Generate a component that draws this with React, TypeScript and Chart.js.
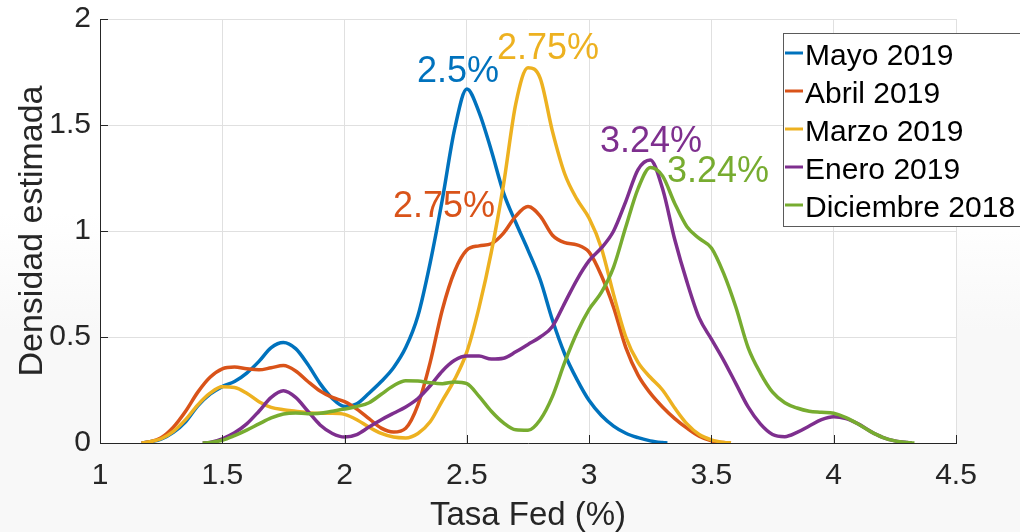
import React, { useEffect, useRef } from 'react';
import { Chart, registerables } from 'chart.js';

Chart.register(...registerables);

const FONT = '"Liberation Sans", Arial, Helvetica, sans-serif';

const seriesNames = ['Mayo 2019', 'Abril 2019', 'Marzo 2019', 'Enero 2019', 'Diciembre 2018'];
const seriesColors = ['#0072BD', '#D95319', '#EDB120', '#7E2F8E', '#77AC30'];

// [tasa, densidad] pairs
const mayo2019 = [
  [1.17, 0], [1.2, 0.005], [1.25, 0.018], [1.3, 0.05], [1.35, 0.1], [1.4, 0.175], [1.45, 0.23],
  [1.5, 0.266], [1.55, 0.29], [1.6, 0.33], [1.65, 0.385], [1.7, 0.45], [1.75, 0.474], [1.8, 0.445],
  [1.85, 0.37], [1.9, 0.28], [1.95, 0.21], [2.0, 0.172], [2.05, 0.185], [2.1, 0.235], [2.15, 0.29],
  [2.2, 0.355], [2.25, 0.45], [2.3, 0.6], [2.35, 0.85], [2.4, 1.15], [2.45, 1.48], [2.5, 1.67],
  [2.55, 1.56], [2.6, 1.38], [2.65, 1.18], [2.7, 1.04], [2.75, 0.91], [2.8, 0.77], [2.85, 0.58],
  [2.9, 0.42], [2.95, 0.3], [3.0, 0.2], [3.05, 0.13], [3.1, 0.08], [3.15, 0.046], [3.2, 0.025],
  [3.25, 0.01], [3.3, 0.002], [3.32, 0],
];
const abril2019 = [
  [1.17, 0], [1.2, 0.005], [1.25, 0.025], [1.3, 0.075], [1.35, 0.15], [1.4, 0.24], [1.45, 0.31],
  [1.5, 0.35], [1.55, 0.358], [1.6, 0.35], [1.65, 0.345], [1.7, 0.355], [1.75, 0.365], [1.8, 0.34],
  [1.85, 0.29], [1.9, 0.245], [1.95, 0.215], [2.0, 0.195], [2.05, 0.16], [2.1, 0.115], [2.15, 0.07],
  [2.2, 0.052], [2.25, 0.07], [2.3, 0.18], [2.35, 0.38], [2.4, 0.63], [2.45, 0.81], [2.5, 0.91],
  [2.55, 0.93], [2.6, 0.94], [2.65, 0.99], [2.7, 1.07], [2.75, 1.115], [2.8, 1.07], [2.85, 0.98],
  [2.9, 0.945], [2.95, 0.935], [3.0, 0.9], [3.05, 0.79], [3.1, 0.64], [3.15, 0.45], [3.2, 0.32],
  [3.25, 0.235], [3.3, 0.17], [3.35, 0.115], [3.4, 0.07], [3.45, 0.032], [3.5, 0.01], [3.55, 0.002],
  [3.58, 0],
];
const marzo2019 = [
  [1.17, 0], [1.2, 0.005], [1.25, 0.02], [1.3, 0.055], [1.35, 0.11], [1.4, 0.18], [1.45, 0.235],
  [1.5, 0.265], [1.55, 0.262], [1.6, 0.235], [1.65, 0.195], [1.7, 0.168], [1.75, 0.157], [1.8, 0.15],
  [1.85, 0.143], [1.9, 0.14], [1.95, 0.14], [2.0, 0.135], [2.05, 0.11], [2.1, 0.075], [2.15, 0.045],
  [2.2, 0.028], [2.25, 0.024], [2.3, 0.045], [2.35, 0.1], [2.4, 0.2], [2.45, 0.3], [2.5, 0.43],
  [2.55, 0.64], [2.6, 0.9], [2.65, 1.22], [2.7, 1.6], [2.75, 1.77], [2.8, 1.72], [2.85, 1.47],
  [2.9, 1.27], [2.95, 1.15], [3.0, 1.06], [3.05, 0.92], [3.1, 0.7], [3.15, 0.5], [3.2, 0.38],
  [3.25, 0.31], [3.3, 0.25], [3.35, 0.165], [3.4, 0.09], [3.45, 0.04], [3.5, 0.015], [3.55, 0.003],
  [3.58, 0],
];
const enero2019 = [
  [1.42, 0], [1.45, 0.003], [1.5, 0.02], [1.55, 0.048], [1.6, 0.09], [1.65, 0.15], [1.7, 0.215],
  [1.75, 0.246], [1.8, 0.215], [1.85, 0.15], [1.9, 0.085], [1.95, 0.045], [2.0, 0.028], [2.05, 0.04],
  [2.1, 0.075], [2.15, 0.11], [2.2, 0.14], [2.25, 0.17], [2.3, 0.21], [2.35, 0.27], [2.4, 0.34],
  [2.45, 0.39], [2.5, 0.41], [2.55, 0.41], [2.6, 0.396], [2.65, 0.4], [2.7, 0.43], [2.75, 0.465],
  [2.8, 0.5], [2.85, 0.55], [2.9, 0.66], [2.95, 0.77], [3.0, 0.86], [3.05, 0.92], [3.1, 1.0],
  [3.15, 1.14], [3.2, 1.29], [3.25, 1.335], [3.3, 1.2], [3.35, 0.96], [3.4, 0.76], [3.45, 0.59],
  [3.5, 0.49], [3.55, 0.39], [3.6, 0.28], [3.65, 0.17], [3.7, 0.09], [3.75, 0.04], [3.8, 0.03],
  [3.85, 0.05], [3.9, 0.08], [3.95, 0.11], [4.0, 0.124], [4.05, 0.115], [4.1, 0.09], [4.15, 0.055],
  [4.2, 0.027], [4.25, 0.01], [4.3, 0.002], [4.32, 0],
];
const diciembre2018 = [
  [1.42, 0], [1.45, 0.002], [1.5, 0.013], [1.55, 0.035], [1.6, 0.061], [1.65, 0.09], [1.7, 0.118],
  [1.75, 0.137], [1.8, 0.142], [1.85, 0.138], [1.9, 0.14], [1.95, 0.15], [2.0, 0.16], [2.05, 0.172],
  [2.1, 0.19], [2.15, 0.23], [2.2, 0.27], [2.25, 0.294], [2.3, 0.292], [2.35, 0.284], [2.4, 0.28],
  [2.45, 0.288], [2.5, 0.28], [2.55, 0.22], [2.6, 0.15], [2.65, 0.095], [2.7, 0.062], [2.75, 0.06],
  [2.8, 0.11], [2.85, 0.22], [2.9, 0.38], [2.95, 0.52], [3.0, 0.63], [3.05, 0.71], [3.1, 0.83],
  [3.15, 1.02], [3.2, 1.2], [3.25, 1.3], [3.3, 1.26], [3.35, 1.13], [3.4, 1.02], [3.45, 0.965],
  [3.5, 0.92], [3.55, 0.8], [3.6, 0.64], [3.65, 0.45], [3.7, 0.33], [3.75, 0.24], [3.8, 0.19],
  [3.85, 0.165], [3.9, 0.15], [3.95, 0.145], [4.0, 0.14], [4.05, 0.12], [4.1, 0.09], [4.15, 0.055],
  [4.2, 0.027], [4.25, 0.01], [4.3, 0.002], [4.33, 0],
];
const seriesData = [mayo2019, abril2019, marzo2019, enero2019, diciembre2018];

const xTicks = [1, 1.5, 2, 2.5, 3, 3.5, 4, 4.5];
const yTicks = [0, 0.5, 1, 1.5, 2];
const xTitle = 'Tasa Fed (%)';
const yTitle = 'Densidad estimada';

// Peak annotations: text, series index, anchor (left / baseline) in data units
const peakTexts = ['2.5%', '2.75%', '2.75%', '3.24%', '3.24%'];
const peakSeries = [0, 2, 1, 3, 4];
const peakX = [2.296, 2.623, 2.198, 3.044, 3.318];
const peakY = [1.705, 1.809, 1.067, 1.374, 1.233];

const backgroundPlugin = {
  id: 'bg',
  beforeDraw(chart: any) {
    const { ctx, width, height, chartArea } = chart;
    ctx.save();
    const g = ctx.createLinearGradient(0, 0, 0, height);
    g.addColorStop(0, '#ffffff');
    g.addColorStop(0.4, '#ffffff');
    g.addColorStop(0.62, '#f8f8f8');
    g.addColorStop(1, '#f8f8f8');
    ctx.fillStyle = g;
    ctx.fillRect(0, 0, width, height);
    ctx.fillStyle = '#ffffff';
    ctx.fillRect(chartArea.left, chartArea.top, chartArea.right - chartArea.left, chartArea.bottom - chartArea.top);
    ctx.restore();
  },
};

const decorPlugin = {
  id: 'decor',
  afterDraw(chart: any) {
    const { ctx, chartArea, scales } = chart;
    const xs = scales.x;
    const ys = scales.y;
    ctx.save();
    // inward tick marks
    ctx.strokeStyle = '#262626';
    ctx.lineWidth = 1;
    ctx.beginPath();
    xTicks.forEach((v) => {
      const px = Math.round(xs.getPixelForValue(v)) + 0.5;
      ctx.moveTo(px, chartArea.bottom);
      ctx.lineTo(px, chartArea.bottom - 8);
    });
    yTicks.forEach((v) => {
      const py = Math.round(ys.getPixelForValue(v)) + 0.5;
      ctx.moveTo(chartArea.left, py);
      ctx.lineTo(chartArea.left + 8, py);
    });
    ctx.stroke();

    // peak annotations
    ctx.font = `36px ${FONT}`;
    ctx.textAlign = 'left';
    ctx.textBaseline = 'alphabetic';
    peakTexts.forEach((t, i) => {
      ctx.fillStyle = seriesColors[peakSeries[i]];
      ctx.fillText(t, xs.getPixelForValue(peakX[i]), ys.getPixelForValue(peakY[i]));
    });

    // axis titles
    ctx.fillStyle = '#262626';
    ctx.font = `33px ${FONT}`;
    ctx.textAlign = 'center';
    ctx.fillText(xTitle, (chartArea.left + chartArea.right) / 2, 525);
    ctx.save();
    ctx.translate(42, (chartArea.top + chartArea.bottom) / 2);
    ctx.rotate(-Math.PI / 2);
    ctx.font = `34px ${FONT}`;
    ctx.fillText(yTitle, 0, 0);
    ctx.restore();

    // legend
    const lx = 783;
    const ly = 33;
    const lw = 260;
    const lh = 193;
    ctx.fillStyle = '#ffffff';
    ctx.fillRect(lx, ly, lw, lh);
    ctx.strokeStyle = '#5a5a5a';
    ctx.lineWidth = 1;
    ctx.strokeRect(lx + 0.5, ly + 0.5, lw, lh);
    ctx.font = `30px ${FONT}`;
    ctx.textAlign = 'left';
    ctx.textBaseline = 'alphabetic';
    seriesNames.forEach((name, i) => {
      const base = 65 + i * 38;
      ctx.strokeStyle = seriesColors[i];
      ctx.lineWidth = 3;
      ctx.beginPath();
      ctx.moveTo(785, base - 12);
      ctx.lineTo(803, base - 12);
      ctx.stroke();
      ctx.fillStyle = '#000000';
      ctx.fillText(name, 805, base);
    });
    ctx.restore();
  },
};

export default function App() {
  const ref = useRef<HTMLCanvasElement | null>(null);
  useEffect(() => {
    document.body.style.margin = '0';
    const canvas = ref.current;
    if (!canvas) return;
    const chart = new Chart(canvas, {
      type: 'line',
      data: {
        datasets: seriesData.map((s, i) => ({
          label: seriesNames[i],
          data: s.map(([x, y]) => ({ x, y })),
          borderColor: seriesColors[i],
          backgroundColor: seriesColors[i],
          borderWidth: 3.5,
          pointRadius: 0,
          fill: false,
          cubicInterpolationMode: 'monotone' as const,
          order: seriesData.length - i,
        })),
      },
      options: {
        animation: false,
        responsive: false,
        devicePixelRatio: 1,
        layout: { padding: { top: 19, right: 64, left: 0, bottom: 0 } },
        plugins: { legend: { display: false }, tooltip: { enabled: false } },
        scales: {
          x: {
            type: 'linear',
            min: 1,
            max: 4.5,
            afterBuildTicks: (s: any) => {
              s.ticks = xTicks.map((v) => ({ value: v }));
            },
            afterFit: (s: any) => {
              s.height = 89;
              s.paddingLeft = 0;
              s.paddingRight = 0;
              s.paddingTop = 0;
              s.paddingBottom = 0;
            },
            grid: { color: '#e0e0e0', drawTicks: false, lineWidth: 1 },
            border: { color: '#262626', width: 1 },
            ticks: {
              font: { family: FONT, size: 30 },
              color: '#262626',
              padding: 15,
              maxRotation: 0,
              autoSkip: false,
              callback: (v: any) => String(v),
            },
          },
          y: {
            type: 'linear',
            min: 0,
            max: 2,
            afterBuildTicks: (s: any) => {
              s.ticks = yTicks.map((v) => ({ value: v }));
            },
            afterFit: (s: any) => {
              s.width = 100;
              s.paddingLeft = 0;
              s.paddingRight = 0;
              s.paddingTop = 0;
              s.paddingBottom = 0;
            },
            grid: { color: '#e0e0e0', drawTicks: false, lineWidth: 1 },
            border: { color: '#262626', width: 1 },
            ticks: {
              font: { family: FONT, size: 30 },
              color: '#262626',
              padding: 9,
              autoSkip: false,
              callback: (v: any) => String(v),
            },
          },
        },
      },
      plugins: [backgroundPlugin, decorPlugin],
    } as any);
    return () => chart.destroy();
  }, []);
  return (
    <div style={{ width: 1020, height: 532 }}>
      <canvas ref={ref} width={1020} height={532} style={{ display: 'block' }} />
    </div>
  );
}
